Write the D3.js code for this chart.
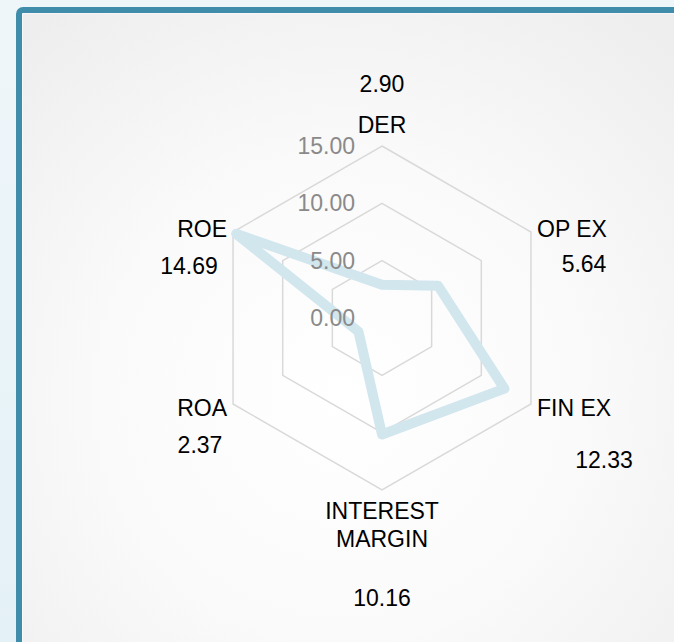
<!DOCTYPE html>
<html>
<head>
<meta charset="utf-8">
<script src="https://cdn.jsdelivr.net/npm/d3@7"></script>
<style>
  html, body { margin: 0; padding: 0; }
  body { width: 674px; height: 642px; overflow: hidden; background: #eaf4f8; }
  svg { display: block; font-family: "Liberation Sans", Arial, sans-serif; }
</style>
</head>
<body>
<svg id="chart" width="674" height="642"></svg>
<script>
const ejes = ["DER", "OP EX", "FIN EX", "INTEREST MARGIN", "ROA", "ROE"];
const valores = [2.90, 5.64, 12.33, 10.16, 2.37, 14.69];
const ticks = [0, 5, 10, 15];
const anillos = [5, 10, 15];

// desplazamiento de las etiquetas de valor respecto a la etiqueta del eje
const offsetValor = [[0, -47], [47, 43], [67, 60], [0, 109], [-27, 45], [-38, 45]];

const width = 674;
const height = 642;
const cx = 382;
const cy = 318;
const R = 172;
const fs = 23;

const svg = d3.select("#chart");
const defs = svg.append("defs");

const fondo = defs.append("linearGradient")
  .attr("id", "fondo-exterior")
  .attr("x1", 0).attr("y1", 0).attr("x2", 0).attr("y2", 1);
fondo.append("stop").attr("offset", 0).attr("stop-color", "#eff6fa");
fondo.append("stop").attr("offset", 1).attr("stop-color", "#e4f1f7");

const panelGrad = defs.append("radialGradient")
  .attr("id", "fondo-panel")
  .attr("gradientUnits", "userSpaceOnUse")
  .attr("cx", cx - 40).attr("cy", cy + 80).attr("r", 480);
panelGrad.append("stop").attr("offset", 0).attr("stop-color", "#ffffff");
panelGrad.append("stop").attr("offset", 0.5).attr("stop-color", "#fafafa");
panelGrad.append("stop").attr("offset", 1).attr("stop-color", "#eeeeee");

svg.append("rect")
  .attr("width", width).attr("height", height)
  .attr("fill", "url(#fondo-exterior)");

// panel con borde
svg.append("rect")
  .attr("x", 19).attr("y", 10)
  .attr("width", 720).attr("height", 700)
  .attr("rx", 4)
  .attr("fill", "url(#fondo-panel)")
  .attr("stroke", "#3f8dab")
  .attr("stroke-width", 6);

svg.append("rect")
  .attr("x", 22.5).attr("y", 13.5)
  .attr("width", 720).attr("height", 700)
  .attr("fill", "none")
  .attr("stroke", "#ffffff")
  .attr("stroke-opacity", 0.5)
  .attr("stroke-width", 1);

const r = d3.scaleLinear().domain([0, 15]).range([0, R]);
const angulo = d3.scalePoint().domain(ejes).range([0, 2 * Math.PI * (ejes.length - 1) / ejes.length]);

const punto = (eje, radio) => {
  const a = angulo(eje);
  return [cx + radio * Math.sin(a), cy - radio * Math.cos(a)];
};

const g = svg.append("g");

// anillos hexagonales
g.selectAll(".anillo")
  .data(anillos)
  .join("polygon")
  .attr("class", "anillo")
  .attr("points", v => ejes.map(e => punto(e, r(v)).join(",")).join(" "))
  .attr("fill", "none")
  .attr("stroke", "#d9d9d9")
  .attr("stroke-width", 1.5);

// serie
const linea = d3.lineRadial()
  .angle((d, i) => angulo(ejes[i]))
  .radius(d => r(d))
  .curve(d3.curveLinearClosed);

g.append("path")
  .attr("transform", `translate(${cx},${cy})`)
  .attr("d", linea(valores))
  .attr("fill", "none")
  .attr("stroke", "#d2e6ee")
  .attr("stroke-width", 10)
  .attr("stroke-linejoin", "round");

// etiquetas de escala
g.selectAll(".tick")
  .data(ticks)
  .join("text")
  .attr("class", "tick")
  .attr("x", cx - 27)
  .attr("y", d => cy - r(d))
  .attr("dy", "0.35em")
  .attr("text-anchor", "end")
  .attr("fill", "#8a8a8a")
  .attr("font-size", fs)
  .text(d => d3.format(".2f")(d));

// etiquetas de ejes
ejes.forEach((eje, i) => {
  const a = angulo(eje);
  const [x, y] = punto(eje, R + 7);
  const s = Math.sin(a);
  const c = Math.cos(a);
  const anchor = s > 0.1 ? "start" : s < -0.1 ? "end" : "middle";

  const t = g.append("text")
    .attr("x", x)
    .attr("y", y)
    .attr("text-anchor", anchor)
    .attr("font-size", fs)
    .attr("fill", "#000");

  const lineas = eje === "INTEREST MARGIN" ? ["INTEREST", "MARGIN"] : [eje];
  lineas.forEach((txt, j) => {
    t.append("tspan")
      .attr("x", x)
      .attr("dy", j === 0 ? (c > 0.9 ? "-6" : c < -0.9 ? "22" : "0.35em") : "28")
      .text(txt);
  });

  const [dx, dy] = offsetValor[i];
  g.append("text")
    .attr("x", x + dx)
    .attr("y", y + dy)
    .attr("text-anchor", "middle")
    .attr("font-size", fs)
    .attr("fill", "#000")
    .text(d3.format(".2f")(valores[i]));
});
</script>
</body>
</html>
